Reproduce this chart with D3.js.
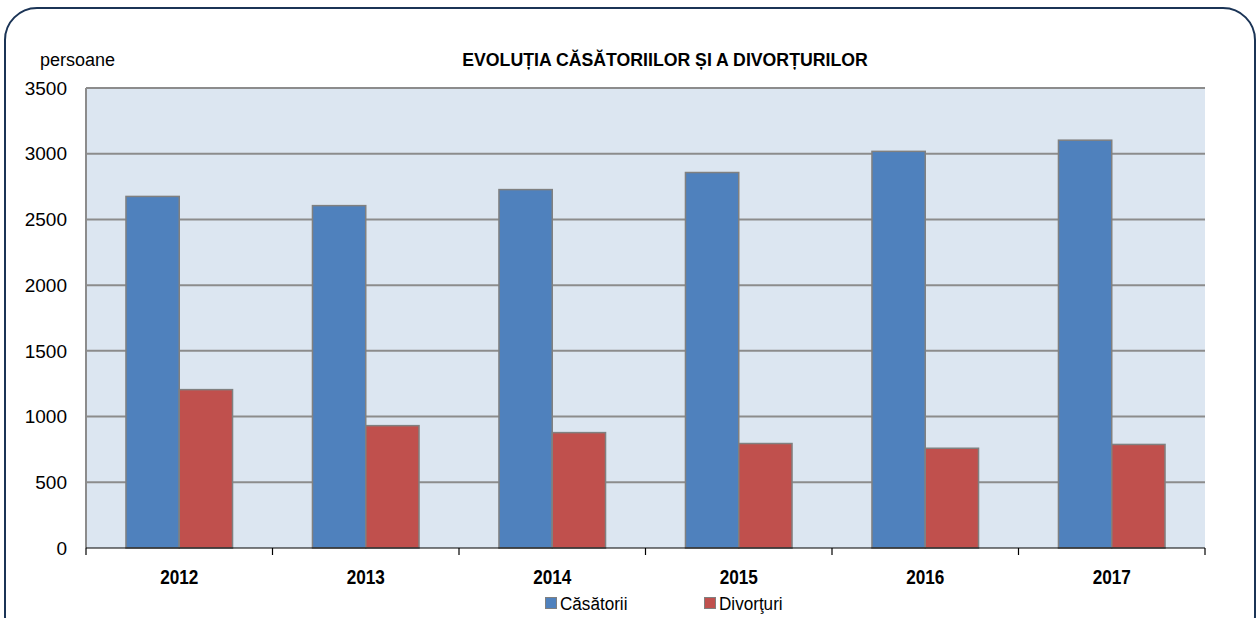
<!DOCTYPE html>
<html>
<head>
<meta charset="utf-8">
<script src="https://cdn.jsdelivr.net/npm/d3@7"></script>
<style>
  body { margin: 0; background: #fff; }
  svg text { font-family: "Liberation Sans", Arial, sans-serif; fill: #000; }
</style>
</head>
<body>
<div id="chart"></div>
<script>
// data
var years = ["2012", "2013", "2014", "2015", "2016", "2017"];
var casatorii = [2675, 2605, 2727, 2857, 3018, 3103];
var divorturi = [1205, 931, 878, 795, 759, 788];
var seriesNames = ["Căsătorii", "Divorţuri"];
var seriesColors = ["#4f81bd", "#c0504d"];
var yTicks = [0, 500, 1000, 1500, 2000, 2500, 3000, 3500];

var W = 1258, H = 618;
var margin = {top: 88, right: 53, bottom: 70, left: 86};
var width = W - margin.left - margin.right,
    height = H - margin.top - margin.bottom;

var svg = d3.select("#chart").append("svg")
  .attr("width", W).attr("height", H);

// outer rounded frame
svg.append("rect")
  .attr("x", 5).attr("y", 8)
  .attr("width", 1250).attr("height", 640)
  .attr("rx", 32).attr("ry", 32)
  .style("fill", "none")
  .style("stroke", "#1b3456")
  .style("stroke-width", 2);

var g = svg.append("g")
  .attr("transform", "translate(" + margin.left + "," + margin.top + ")");

var x = d3.scaleBand().domain(years).range([0, width]).paddingInner(0).paddingOuter(0);
var y = d3.scaleLinear().domain([0, 3500]).range([height, 0]);

var inner = d3.scaleBand().domain(seriesNames)
  .range([0, x.bandwidth()]).paddingInner(0).paddingOuter(0.75);

// plot background
g.append("rect")
  .attr("width", width).attr("height", height)
  .style("fill", "#dce6f1");

// gridlines
g.selectAll(".grid")
  .data(yTicks.filter(function(d){ return d > 0; }))
  .enter().append("line")
    .attr("x1", 0).attr("x2", width)
    .attr("y1", function(d){ return y(d); })
    .attr("y2", function(d){ return y(d); })
    .style("stroke", "#8c8c8c")
    .style("stroke-width", 2);

// left axis line
g.append("line")
  .attr("x1", 0).attr("x2", 0)
  .attr("y1", 0).attr("y2", height)
  .style("stroke", "#8c8c8c")
  .style("stroke-width", 2);

// y labels
g.selectAll(".ylab")
  .data(yTicks)
  .enter().append("text")
    .attr("x", -19)
    .attr("y", function(d){ return y(d); })
    .attr("dy", "0.35em")
    .attr("text-anchor", "end")
    .style("font-size", "19px")
    .text(function(d){ return d; });

// bars
var rows = years.map(function(yr, i){
  return {year: yr, values: [casatorii[i], divorturi[i]]};
});

var groups = g.selectAll(".year")
  .data(rows)
  .enter().append("g")
    .attr("transform", function(d){ return "translate(" + x(d.year) + ",0)"; });

groups.selectAll("rect")
  .data(function(d){ return d.values.map(function(v, k){ return {name: seriesNames[k], value: v, k: k}; }); })
  .enter().append("rect")
    .attr("x", function(d){ return inner(d.name); })
    .attr("y", function(d){ return y(d.value); })
    .attr("width", inner.bandwidth())
    .attr("height", function(d){ return height - y(d.value); })
    .style("fill", function(d){ return seriesColors[d.k]; })
    .style("stroke", "#808080")
    .style("stroke-width", 1.5);

// bottom axis
var xAxis = g.append("g")
  .attr("transform", "translate(0," + height + ")");
xAxis.append("line")
  .attr("x1", 0).attr("x2", width)
  .style("stroke", "#000").style("stroke-width", 1.2);
xAxis.selectAll(".tick")
  .data(d3.range(years.length + 1))
  .enter().append("line")
    .attr("x1", function(d){ return d * x.step(); })
    .attr("x2", function(d){ return d * x.step(); })
    .attr("y1", 0).attr("y2", 7)
    .style("stroke", "#000").style("stroke-width", 1.2);
xAxis.selectAll("text")
  .data(years)
  .enter().append("text")
    .attr("transform", function(d){ return "translate(" + (x(d) + x.bandwidth() / 2) + ",36) scale(0.86,1)"; })
    .attr("text-anchor", "middle")
    .style("font-size", "20px")
    .style("font-weight", "bold")
    .text(function(d){ return d; });

// title and unit
svg.append("text")
  .attr("x", 665).attr("y", 66)
  .attr("text-anchor", "middle")
  .style("font-size", "17.7px")
  .style("font-weight", "bold")
  .text("EVOLUȚIA CĂSĂTORIILOR ȘI A DIVORȚURILOR");

svg.append("text")
  .attr("x", 40).attr("y", 66)
  .style("font-size", "18px")
  .text("persoane");

// legend
var legendX = [545, 704];
var legend = svg.selectAll(".legend")
  .data(seriesNames)
  .enter().append("g")
    .attr("transform", function(d, i){ return "translate(" + legendX[i] + ",597)"; });
legend.append("rect")
  .attr("x", 0.5).attr("y", 0.5)
  .attr("width", 11).attr("height", 11)
  .style("fill", function(d, i){ return seriesColors[i]; })
  .style("stroke", "#808080")
  .style("stroke-width", 1);
legend.append("text")
  .attr("transform", "translate(15,13) scale(0.9,1)")
  .style("font-size", "19px")
  .text(function(d){ return d; });
</script>
</body>
</html>
